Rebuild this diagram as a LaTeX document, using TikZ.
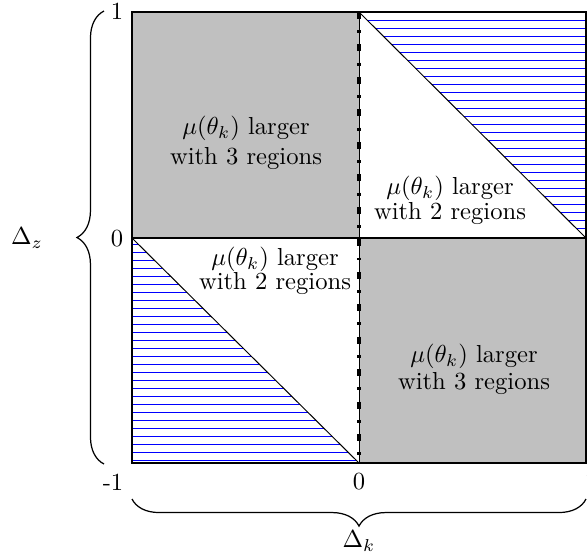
\documentclass[tikz,border=0pt]{standalone}
\usetikzlibrary{decorations.pathreplacing}
\definecolor{fillgray}{RGB}{192,192,192}
\begin{document}
\begin{tikzpicture}[x=0.4065pt,y=-0.4065pt,
  region/.style={fill=fillgray},
  hatch/.style={blue,line width=0.4pt},
  edge/.style={black,line width=0.8pt},
  diag/.style={black,line width=0.4pt},
  dashdotline/.style={black,line width=1.4pt,dash pattern=on 2.8pt off 4.6pt on 1.2pt off 4.6pt},
  lbl/.style={align=center,inner sep=0pt},
  tick/.style={inner sep=0pt},
  bracedeco/.style={decorate,decoration={brace,amplitude=11pt},line width=0.5pt}]
\useasboundingbox (0,0) rectangle (587,556);
\coordinate (TL) at (132,12);
\coordinate (TR) at (586,12);
\coordinate (BL) at (132,463);
\coordinate (BR) at (586,463);
\coordinate (TM) at (359,12);
\coordinate (BM) at (359,463);
\coordinate (ML) at (132,238);
\coordinate (MR) at (586,238);
\coordinate (C) at (359,238);
% gray regions
\fill[region] (TL) rectangle (C);
\fill[region] (C) rectangle (BR);
% hatching
\begin{scope}
  \clip (TM) -- (TR) -- (MR) -- cycle;
  \foreach \yy in {20,28,...,460} \draw[hatch] (359,\yy) -- (586,\yy);
\end{scope}
\begin{scope}
  \clip (ML) -- (BL) -- (BM) -- cycle;
  \foreach \yy in {20,28,...,460} \draw[hatch] (132,\yy) -- (359,\yy);
\end{scope}
% diagonals
\draw[diag] (TM) -- (MR);
\draw[diag] (ML) -- (BM);
% frame
\draw[edge] (TL) rectangle (BR);
\draw[edge] (ML) -- (MR);
\draw[diag] (TM) -- (BM);
\draw[dashdotline] (TM) -- (BM);
% region texts
\node[lbl] (t1) at (246,142.7) {$\mu(\theta_k)$ larger\\with 3 regions};
\node[lbl] (t2) at (450,200.7) {$\mu(\theta_k)$ larger\\[-1.8pt]with 2 regions};
\node[lbl] (t3) at (275,271.2) {$\mu(\theta_k)$ larger\\[-2.2pt]with 2 regions};
\node[lbl] (t4) at (474,369.7) {$\mu(\theta_k)$ larger\\[-1pt]with 3 regions};
% tick labels
\node[tick] (y1) at (117,11) {1};
\node[tick] (y0) at (117,239) {0};
\node[tick] (xm1) at (113,482) {-1};
\node[tick] (x0) at (359,482) {0};
\node[tick] (x1) at (591,482) {1};
% braces
\coordinate (lb1) at (104,464);
\coordinate (lb2) at (104,11);
\coordinate (bb1) at (586,499);
\coordinate (bb2) at (132,499);
\draw[bracedeco] (lb1) -- (lb2);
\draw[bracedeco] (bb1) -- (bb2);
\node[tick] (dz) at (27,238) {$\Delta_z$};
\node[tick] (dk) at (359,541) {$\Delta_k$};
\end{tikzpicture}
\end{document}
